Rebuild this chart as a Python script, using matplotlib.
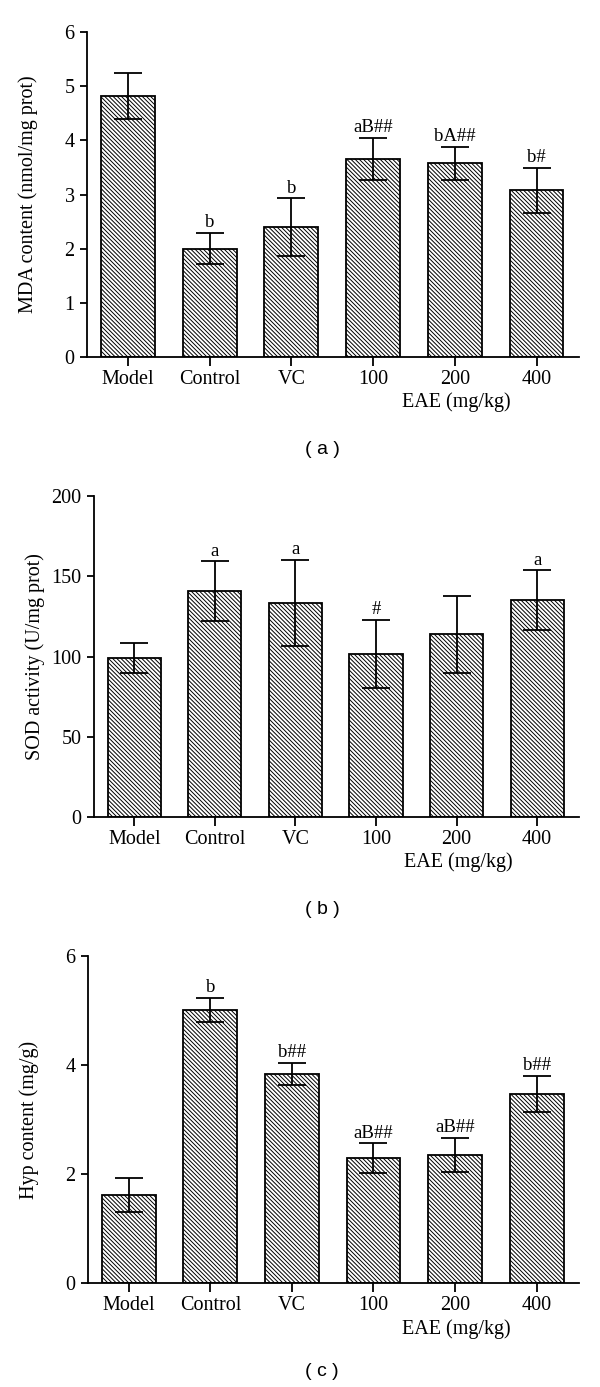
import matplotlib
matplotlib.use("Agg")
import matplotlib.pyplot as plt
import numpy as np

plt.rcParams['font.family'] = ['Liberation Serif', 'DejaVu Serif']
plt.rcParams['hatch.color'] = '#8c8c8c'
plt.rcParams['hatch.linewidth'] = 0.7

categories = ['Model', 'Control', 'VC', '100', '200', '400']

mda_mean = [4.82, 2.00, 2.40, 3.66, 3.58, 3.08]
mda_err = [0.42, 0.29, 0.53, 0.385, 0.305, 0.415]
mda_marks = ['', 'b', 'b', 'aB##', 'bA##', 'b#']

sod_mean = [99.3, 140.8, 133.3, 101.8, 113.9, 134.9]
sod_err = [9.35, 18.6, 26.9, 21.2, 24.1, 18.7]
sod_marks = ['', 'a', 'a', '#', '', 'a']

hyp_mean = [1.62, 5.01, 3.84, 2.29, 2.35, 3.47]
hyp_err = [0.31, 0.22, 0.20, 0.275, 0.31, 0.335]
hyp_marks = ['', 'b', 'b##', 'aB##', 'aB##', 'b##']

panels = [
    dict(mean=mda_mean, err=mda_err, marks=mda_marks, ylabel='MDA content (nmol/mg prot)',
         yticks=[0, 1, 2, 3, 4, 5, 6], ylim=6, tag='( a )',
         rect=[87, 32, 579, 357], tag_y=450),
    dict(mean=sod_mean, err=sod_err, marks=sod_marks, ylabel='SOD activity (U/mg prot)',
         yticks=[0, 50, 100, 150, 200], ylim=200, tag='( b )',
         rect=[94, 496, 579, 817], tag_y=909),
    dict(mean=hyp_mean, err=hyp_err, marks=hyp_marks, ylabel='Hyp content (mg/g)',
         yticks=[0, 2, 4, 6], ylim=6, tag='( c )',
         rect=[88, 956, 579, 1283], tag_y=1372),
]

W, H = 600, 1387
fig = plt.figure(figsize=(W / 100, H / 100), dpi=100)

for p in panels:
    x0, y0, x1, y1 = p['rect']
    ax = fig.add_axes([x0 / W, 1 - y1 / H, (x1 - x0) / W, (y1 - y0) / H])
    x = np.arange(len(categories))
    ax.bar(x, p['mean'], width=0.66, color='white', edgecolor='black',
           linewidth=1.3, hatch='\\' * 8, zorder=2)
    ax.errorbar(x, p['mean'], yerr=p['err'], fmt='none', ecolor='black',
                elinewidth=1.3, capsize=10, capthick=1.3, zorder=3)
    for xi, m, e, t in zip(x, p['mean'], p['err'], p['marks']):
        if t:
            ax.annotate(t, (xi, m + e), xytext=(0, 4), textcoords='offset points',
                        ha='center', va='baseline', fontsize=13.5)
    ax.set_xlim(-0.5, 5.52)
    ax.set_ylim(0, p['ylim'])
    ax.set_yticks(p['yticks'])
    ax.set_xticks(x)
    ax.set_xticklabels(categories)
    for s in ['top', 'right']:
        ax.spines[s].set_visible(False)
    for s in ['left', 'bottom']:
        ax.spines[s].set_linewidth(1.3)
    ax.tick_params(axis='x', direction='out', length=6.5, width=1.3, labelsize=14.5, pad=3)
    ax.tick_params(axis='y', direction='out', length=5, width=1.3, labelsize=14.5, pad=4)
    ax.set_ylabel(p['ylabel'], fontsize=14.5)
    ax.yaxis.set_label_coords(-0.10, 0.5)
    ax.text(4.02, -0.14, 'EAE (mg/kg)', transform=ax.get_xaxis_transform(),
            ha='center', va='center', fontsize=14.5)
    fig.text(322 / W, 1 - p['tag_y'] / H, p['tag'], ha='center', va='center',
             fontsize=14, family=['Liberation Sans', 'DejaVu Sans'])

fig.savefig('out.png', dpi=100)
